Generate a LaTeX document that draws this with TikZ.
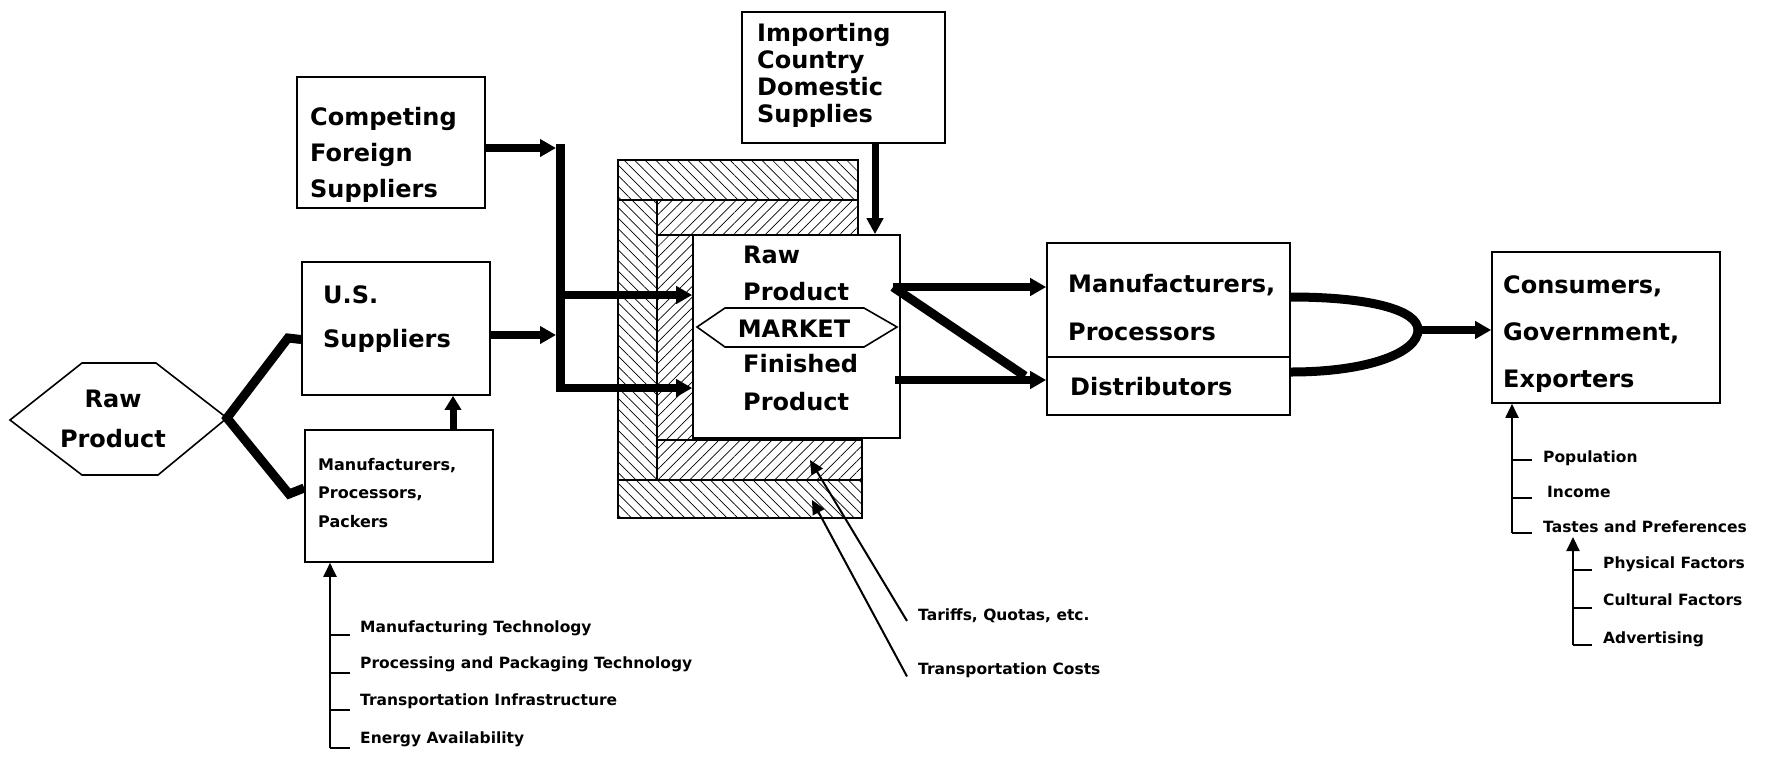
\documentclass[tikz,border=0pt]{standalone}
\usepackage{fontspec}
\setmainfont{DejaVu Sans}
\usetikzlibrary{arrows.meta,patterns.meta}
\begin{document}
\begin{tikzpicture}[x=1pt,y=-1pt,
  box/.style={draw,line width=1.6pt,inner sep=0pt,fill=white},
  band/.style={draw,line width=1.4pt},
  hatchA/.style={pattern={Lines[angle=-45,distance=7.5pt,line width=0.7pt]}},
  hatchB/.style={pattern={Lines[angle=45,distance=7.5pt,line width=0.7pt]}},
  bigtxt/.style={font=\bfseries\fontsize{24}{36}\selectfont,inner sep=0pt,anchor=base west,align=left},
  smalltxt/.style={font=\bfseries\fontsize{15.5}{18}\selectfont,inner sep=0pt,anchor=mid west},
  fat/.style={line width=8pt,-{Triangle[length=16pt,width=17pt]}},
  fatline/.style={line width=9pt},
  slim/.style={line width=2pt,-{Triangle[length=14pt,width=13pt]}},
  tickline/.style={line width=2pt},
]
\useasboundingbox (0,0) rectangle (1767,756);

% ---------- Raw product hexagon
\draw[line width=1.6pt] (10,420) -- (82,363) -- (156,363) -- (227,418) -- (158,475) -- (82,475) -- cycle;
\coordinate (rawtip) at (227,418);
\node[bigtxt,anchor=base,align=center,font=\bfseries\fontsize{24}{40}\selectfont] (rawtxt) at (113,447) {Raw\\Product};

% ---------- left boxes
\node[box,minimum width=188pt,minimum height=131pt] (cfs) at (391,142.5) {};
\node[bigtxt] (cfstxt) at (310,197) {Competing\\Foreign\\Suppliers};

\node[box,minimum width=188pt,minimum height=133pt] (us) at (396,328.5) {};
\node[bigtxt,font=\bfseries\fontsize{24}{44}\selectfont] (ustxt) at (323,347) {U.S.\\Suppliers};

\node[box,minimum width=188pt,minimum height=132pt] (mpp) at (399,496) {};
\node[bigtxt,font=\bfseries\fontsize{16}{28.5}\selectfont] (mpptxt) at (318,527) {Manufacturers,\\Processors,\\Packers};

% ---------- hatched frame
\path[band,hatchA] (618,160) rectangle (858,200);
\path[band,hatchA] (618,200) rectangle (657,480);
\path[band,hatchA] (618,480) rectangle (862,518);
\path[band,hatchB] (657,200) rectangle (858,235);
\path[band,hatchB] (657,235) rectangle (693,440);
\path[band,hatchB] (657,440) rectangle (862,480);

% ---------- market box
\node[box,minimum width=207pt,minimum height=203pt] (mkt) at (796.5,336.5) {};
\draw[line width=1.6pt] (697,327) -- (725,308) -- (864,308) -- (897,327) -- (864,347) -- (725,347) -- cycle;
\node[bigtxt,font=\bfseries\fontsize{24}{37}\selectfont] (mkttop) at (743,300) {Raw\\Product};
\node[bigtxt,anchor=base] (mktmid) at (794,337) {MARKET};
\node[bigtxt,font=\bfseries\fontsize{24}{38}\selectfont] (mktbot) at (743,410) {Finished\\Product};

% ---------- importing box
\node[box,minimum width=203pt,minimum height=131pt] (imp) at (843.5,77.5) {};
\node[bigtxt,font=\bfseries\fontsize{24}{26.7}\selectfont] (imptxt) at (757,122) {Importing\\Country\\Domestic\\Supplies};

% ---------- manufacturers / distributors
\node[box,minimum width=243pt,minimum height=172pt] (mpd) at (1168.5,329) {};
\draw[line width=1.6pt] (mpd.west |- 0,357) -- (mpd.east |- 0,357);
\node[bigtxt,font=\bfseries\fontsize{24}{48}\selectfont] (mpdtxt) at (1068,340) {Manufacturers,\\Processors};
\node[bigtxt] (distxt) at (1070,395) {Distributors};

% ---------- consumers
\node[box,minimum width=228pt,minimum height=151pt] (cons) at (1606,327.5) {};
\node[bigtxt,font=\bfseries\fontsize{24}{47}\selectfont] (constxt) at (1503,387) {Consumers,\\Government,\\Exporters};

% ---------- thick connectors on the left
\draw[fatline,line join=miter] ([yshift=-11pt]us.west) -- (288,338) -- (rawtip) -- (289,494) -- ([yshift=8pt]mpp.west);
\draw[line width=7pt,-{Triangle[length=14pt,width=16pt]}] ([xshift=54pt]mpp.north) -- ([xshift=57pt]us.south);

\coordinate (jtop) at (560,144);
\coordinate (jbot) at (560,388);
\draw[fat] ([yshift=-5.5pt]cfs.east) -- (556,148);
\draw[fat] ([yshift=-6.5pt]us.east) -- (556,335);
\draw[line width=9pt] (jtop) -- (jbot);
\draw[fat] (556,295) -- (mkt.west |- 0,295);
\draw[fat] (jbot) ++(-4.5,0) -- (mkt.west |- 0,388);

\draw[line width=7pt,-{Triangle[length=16pt,width=16pt]}] ([xshift=31.5pt]imp.south) -- ([xshift=78.5pt]mkt.north);

% ---------- Z connector
\coordinate (zs) at (893,287);
\coordinate (ze) at (895,380);
\draw[fat] (zs) -- (mpd.west |- 0,287);
\draw[fatline,line join=miter] (zs) -- (1025,376);
\draw[fat] (ze) -- (mpd.west |- 0,380);

% ---------- curved merge
\coordinate (merge) at (1418,330);
\draw[fatline] ([yshift=32pt]mpd.east) .. controls (1370,297) and (1418,310) .. (merge);
\draw[fatline] ([yshift=-43pt]mpd.east) .. controls (1370,372) and (1418,352) .. (merge);
\draw[fat] ([xshift=-4pt]merge) -- ([yshift=-2.5pt]cons.west);

% ---------- bottom-left factors
\coordinate (llb) at (330,748);
\draw[slim] (llb) -- ([xshift=-69pt]mpp.south);
\foreach \yy in {635,673,710,748} \draw[tickline] (330,\yy) -- (350,\yy);
\node[smalltxt] (f1) at (360,630) {Manufacturing Technology};
\node[smalltxt] (f2) at (360,666) {Processing and Packaging Technology};
\node[smalltxt] (f3) at (360,703) {Transportation Infrastructure};
\node[smalltxt] (f4) at (360,741) {Energy Availability};

% ---------- right factors
\coordinate (rb) at (1512,533);
\draw[slim] (rb) -- ([xshift=-94pt]cons.south);
\foreach \yy in {460,498,533} \draw[tickline] (1512,\yy) -- (1532,\yy);
\node[smalltxt] (g1) at (1543,460) {Population};
\node[smalltxt] (g2) at (1547,495) {Income};
\node[smalltxt] (g3) at (1543,530) {Tastes and Preferences};
\coordinate (rb2) at (1573,645);
\coordinate (tip2) at (1573,537);
\draw[slim] (rb2) -- (tip2);
\foreach \yy in {570,608,645} \draw[tickline] (1573,\yy) -- (1592,\yy);
\node[smalltxt] (h1) at (1603,566) {Physical Factors};
\node[smalltxt] (h2) at (1603,603) {Cultural Factors};
\node[smalltxt] (h3) at (1603,641) {Advertising};

% ---------- tariffs / transport
\node[smalltxt] (tar) at (918,618) {Tariffs, Quotas, etc.};
\node[smalltxt] (trn) at (918,672) {Transportation Costs};
\draw[slim] ([shift={(-11pt,-5pt)}]tar.west) -- (810,460);
\draw[slim] ([shift={(-11pt,-6pt)}]trn.west) -- (812,500);
\end{tikzpicture}
\end{document}
